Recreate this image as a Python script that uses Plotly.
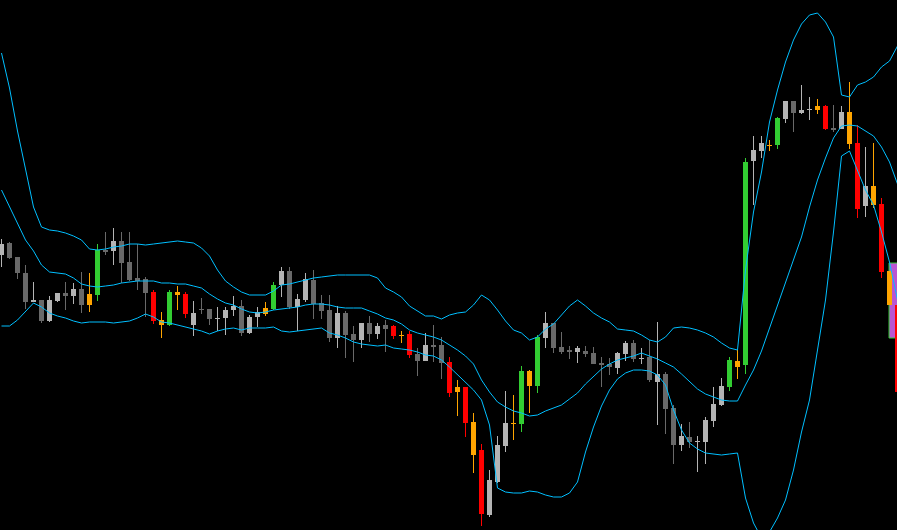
import plotly.graph_objects as go

# ---- candle data (price units, bar index 0..112) ----
opens = [275,287,273,257,228,230,209,229,237,234,
         241,225,235,280,279,289,268,252,251,238,
         210,205,238,236,205,221,221,211,212,220,
         224,197,213,216,221,245,259,223,230,250,
         227,220,192,217,196,190,207,196,205,204,
         195,196,176,169,185,185,168,138,143,108,
         80,15,48,84,106,106,159,144,192,207,
         183,180,178,179,177,167,166,162,176,187,
         171,173,148,156,122,85,93,88,88,109,
         125,143,169,165,369,379,384,385,411,429,
         417,420,420,424,402,401,418,387,324,344,
         326,259,225]
highs = [291,288,273,265,248,230,234,237,248,247,
         258,257,286,298,302,298,298,286,253,240,
         218,240,244,238,229,232,221,223,223,234,
         230,215,223,228,248,263,263,236,257,260,
         235,235,224,219,204,207,214,207,210,205,
         199,199,182,197,205,193,173,150,143,117,
         86,60,94,139,135,164,160,195,218,207,
         198,184,184,184,183,173,172,178,189,190,
         182,190,208,158,125,106,108,94,113,143,
         152,173,180,372,394,394,390,413,429,429,
         445,433,431,425,425,424,448,405,383,387,
         332,259,225]
lows = [263,271,251,221,228,207,208,228,220,226,
        217,218,229,275,265,247,249,240,213,206,
        192,204,220,212,194,216,205,199,195,214,
        194,196,203,214,220,233,221,199,228,211,
        211,188,182,172,168,182,188,191,178,191,
        187,172,154,169,168,151,133,114,93,57,
        4,13,47,78,90,98,117,137,182,177,
        176,171,167,173,166,143,155,156,169,168,
        166,148,105,96,66,79,82,58,66,103,
        124,139,151,156,325,372,379,381,407,398,
        416,410,416,400,398,401,381,312,313,322,
        252,225,138]
closes = [286,272,257,228,230,209,230,237,234,241,
          225,236,280,278,289,267,250,249,237,209,
          205,238,235,216,217,220,211,212,220,224,
          197,213,218,222,245,259,223,231,251,226,
          219,192,217,195,190,207,196,204,201,194,
          194,175,169,185,183,167,137,143,107,75,
          16,50,85,107,107,159,144,193,207,182,
          178,178,182,176,166,165,163,177,187,171,
          172,150,156,121,85,94,88,89,110,126,
          144,170,163,368,380,387,385,412,429,417,
          420,421,424,401,400,418,386,321,344,325,
          258,225,138]
kinds = ["LG","DG","DG","DG","LG","DG","LG","LG","DG","LG",
         "DG","OR","GR","DG","LG","DG","DG","DG","DG","RD",
         "OR","GR","OR","RD","LG","DG","DG","LG","LG","LG",
         "DG","LG","LG","OR","GR","LG","DG","LG","LG","DG",
         "DG","DG","LG","DG","DG","LG","DG","LG","DG","RD",
         "OR","RD","DG","LG","DG","DG","RD","OR","RD","OR",
         "RD","LG","LG","LG","OR","GR","OR","GR","LG","DG",
         "DG","DG","LG","DG","DG","DG","DG","LG","LG","DG",
         "LG","DG","LG","DG","DG","LG","DG","LG","LG","LG",
         "LG","GR","OR","GR","LG","LG","OR","GR","LG","DG",
         "LG","LG","OR","RD","DG","LG","OR","RD","LG","OR",
         "RD","OR","RD"]

# ---- band data ----
upper = [477,442,399,360,323,303,300,299,297,294,
         290,281,280,281,283,284,286,286,285,286,
         287,288,289,288,287,282,274,260,249,243,
         238,235,235,235,239,245,246,248,250,252,
         253,254,255,255,255,255,255,252,242,238,
         233,224,219,214,214,211,215,217,218,225,
         235,230,220,209,200,197,190,193,201,206,
         215,224,230,224,217,212,208,201,200,199,
         195,190,188,193,202,203,202,200,197,193,
         187,182,180,260,318,358,408,440,468,490,
         506,515,517,508,493,435,433,445,448,453,
         463,469,484]
middle = [340,323,306,290,279,265,258,257,256,252,
          246,244,243,244,245,247,248,249,249,249,
          247,247,246,246,244,242,236,231,227,225,
          221,218,217,218,220,221,222,223,225,226,
          226,225,223,222,222,222,219,216,212,210,
          206,200,197,195,193,190,185,180,174,166,
          150,138,128,123,119,117,114,115,119,122,
          125,131,137,146,154,161,166,170,172,174,
          177,174,171,167,163,156,148,141,136,133,
          130,129,129,145,160,179,202,225,247,270,
          293,323,350,372,392,404,405,404,399,394,
          383,368,346]
lower = [204,204,210,219,227,223,217,214,212,209,
         207,208,208,208,207,208,209,212,216,213,
         208,207,205,203,201,199,196,199,201,202,
         200,202,202,202,203,199,198,199,200,201,
         202,197,195,192,188,186,185,184,185,182,
         181,180,178,175,174,170,163,155,148,140,
         130,105,42,38,37,37,39,38,35,33,
         33,37,48,78,103,124,140,151,157,160,
         160,159,155,145,120,100,87,81,77,76,
         75,76,77,32,7,-8,-2,12,30,60,
         98,130,182,230,298,374,379,360,340,325,
         298,268,230]

# ---- range box at the last bars ----
box_left, box_right = 110.94, 113.5
box_bottom, box_top = 192, 267

COLORS = {"LG": "#b4b4b4", "DG": "#696969", "GR": "#32cd32",
          "RD": "#ff0000", "OR": "#ffa500"}
BAND_COLOR = "#00bfff"

n = len(opens)
idx = list(range(n))
fig = go.Figure()

for kind, col in COLORS.items():
    ks = [i for i in idx if kinds[i] == kind]
    wx, wy = [], []
    for i in ks:
        wx += [i, i, None]
        wy += [lows[i], highs[i], None]
    fig.add_trace(go.Scatter(x=wx, y=wy, mode="lines",
                             line=dict(color=col, width=1),
                             hoverinfo="skip", showlegend=False))
    base = [min(opens[i], closes[i]) for i in ks]
    hgt = [max(abs(closes[i] - opens[i]), 1) for i in ks]
    fig.add_trace(go.Bar(x=ks, y=hgt, base=base, width=0.625,
                         marker=dict(color=col, line=dict(width=0)),
                         showlegend=False))

for band in (upper, middle, lower):
    fig.add_trace(go.Scatter(x=idx, y=band, mode="lines",
                             line=dict(color=BAND_COLOR, width=1),
                             hoverinfo="skip", showlegend=False))

fig.add_shape(type="rect", xref="x", yref="y",
              x0=box_left, x1=box_right, y0=box_bottom, y1=box_top,
              fillcolor="#ba55d3", line=dict(color="#32cd32", width=1),
              layer="below")

fig.update_layout(
    width=897, height=530,
    margin=dict(l=0, r=0, t=0, b=0),
    paper_bgcolor="#000000", plot_bgcolor="#000000",
    barmode="overlay", showlegend=False,
    xaxis=dict(range=[-0.1875, 111.9375], visible=False, fixedrange=True),
    yaxis=dict(range=[0, 530], visible=False, fixedrange=True),
)

fig.write_html(
    "out.html",
    config={"displayModeBar": False},
    post_script=("document.body.style.margin='0';"
                 "document.body.style.background='#000';"
                 "document.body.style.overflow='hidden';"),
)
